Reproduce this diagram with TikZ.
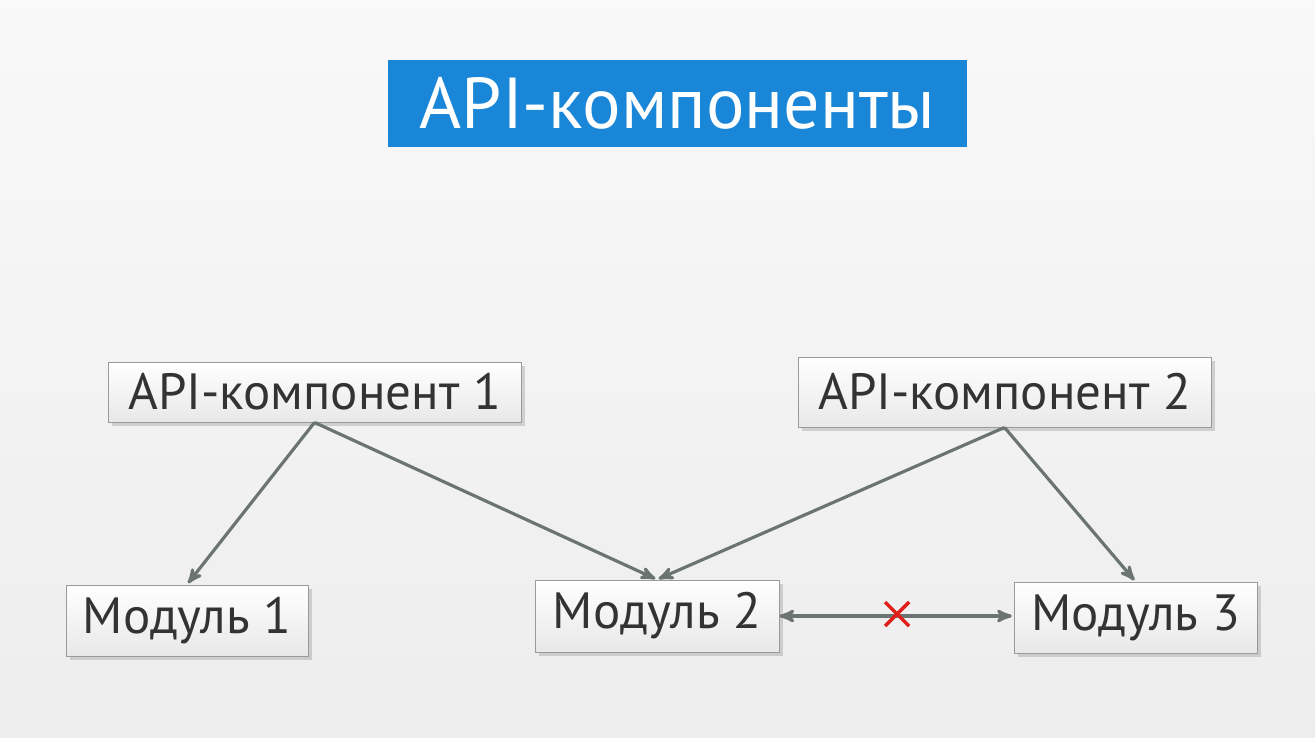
\documentclass[tikz,border=0pt]{standalone}
\usepackage{fontspec}
\setmainfont{PT Sans}
\usetikzlibrary{arrows}
\usetikzlibrary{calc}
\usetikzlibrary{positioning}
\usetikzlibrary{shadows}
\definecolor{titleblue}{HTML}{1A86D8}
\definecolor{linegray}{HTML}{6B7472}
\definecolor{boxborder}{HTML}{9A9A9A}
\definecolor{crossred}{HTML}{E0201A}
\tikzset{
  box/.style={draw=boxborder,line width=0.5pt,top color=white,bottom color=gray!18,
    rectangle,inner sep=0pt,font=\fontsize{29}{32}\selectfont,text=black!80,
    drop shadow={shadow xshift=2pt,shadow yshift=-2pt,opacity=0.3}},
  link/.style={draw=linegray,line width=1.8pt,-stealth',shorten >=1pt}
}
\begin{document}
\begin{tikzpicture}[x=0.02cm,y=-0.02cm]

  \shade [top color=white!95!gray,bottom color=gray!14] (0,0) rectangle (1315,737);
  \useasboundingbox (0,0) rectangle (1315,737);

  \node [fill=titleblue,text=white,minimum width=579*0.02cm,minimum height=87*0.02cm,
    font=\fontsize{41}{44}\selectfont] (title) at (677.5,103.5) {API-компоненты};

  \node [box,minimum width=413*0.02cm,minimum height=60*0.02cm] (api1) at (314.5,392) {API-компонент 1};
  \node [box,minimum width=413*0.02cm,minimum height=70*0.02cm] (api2) at (1004.5,392) {API-компонент 2};

  \node [box,minimum width=242*0.02cm,minimum height=71*0.02cm] (mod1) at (187,620.5) {Модуль 1};
  \node [box,minimum width=244*0.02cm,minimum height=72*0.02cm] (mod2) at (657,616) {Модуль 2};
  \node [box,minimum width=243*0.02cm,minimum height=71*0.02cm] (mod3) at (1135.5,617.5) {Модуль 3};

  \draw [link] (api1.south) -- (mod1.north);
  \draw [link] (api1.south) -- (mod2.north);
  \draw [link] (api2.south) -- (mod2.north);
  \draw [link] (api2.south) -- (mod3.north);

  \draw [link,stealth'-stealth'] (mod2.east) -- (mod2.east -| mod3.west);

  % red cross over the link
  \coordinate (cross) at (897,614);
  \draw [crossred,line width=2pt] ($(cross)+(-12,-12)$) -- ($(cross)+(12,12)$)
    ($(cross)+(-12,12)$) -- ($(cross)+(12,-12)$);

\end{tikzpicture}
\end{document}
